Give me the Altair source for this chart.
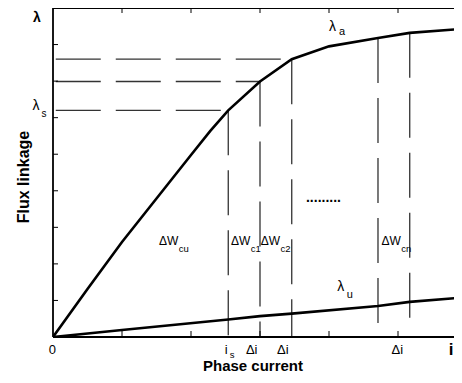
import altair as alt
import pandas as pd

# ---- data ----
i_a = [0, 0.5, 1.0, 1.5, 2.0, 2.28, 2.54, 3.0, 3.46, 4.0, 4.71, 5.17, 5.93]
lam_a = [0, 1.31, 2.6, 3.79, 4.98, 5.64, 6.2, 6.99, 7.6, 7.95, 8.18, 8.32, 8.43]
i_u = [0, 1.0, 2.54, 3.0, 3.46, 4.71, 5.17, 5.93]
lam_u = [0, 0.19, 0.48, 0.57, 0.64, 0.85, 0.96, 1.08]

v_x = [2.54, 3.0, 3.46, 4.71, 5.17]
v_top = [6.2, 6.99, 7.6, 8.18, 8.32]
v_bot = [0, 0, 0, 0.21, 0.35]

h_y = [7.6, 6.99, 6.2]
h_x1 = [0.04, 0.04, 0.04]
h_x2 = [3.46, 3.0, 2.54]

x_ticks = [1, 2, 3, 4, 5]
y_ticks = [1, 2, 3, 4, 5, 6, 7, 8]

tick_text = ["0", "i", "\u0394i", "\u0394i", "\u0394i"]
tick_x = [-0.01, 2.51, 2.88, 3.33, 4.99]

dw_text = ["\u0394W", "\u0394W", "\u0394W", "\u0394W"]
dw_x = [1.536, 2.58, 3.01, 4.76]
dw_sub = ["cu", "c1", "c2", "cn"]
dw_sub_x = [1.822, 2.866, 3.296, 5.046]

PX = 69.0            # pixels per unit current
W, H = 401, 329
XMAX, YMAX = W / PX, 9
FONT = "Liberation Sans"

xs = alt.Scale(domain=[0, XMAX], nice=False, zero=False)
ys = alt.Scale(domain=[0, YMAX], nice=False, zero=False)


def X(f):
    return alt.X(f, type="quantitative", scale=xs, axis=None)


def Y(f):
    return alt.Y(f, type="quantitative", scale=ys, axis=None)


curve_a = pd.DataFrame({"i": i_a, "lam": lam_a})
curve_u = pd.DataFrame({"i": i_u, "lam": lam_u})
vdf = pd.DataFrame({"x": v_x, "top": v_top, "bot": v_bot})
hdf = pd.DataFrame({"y": h_y, "x1": h_x1, "x2": h_x2})
xt = pd.DataFrame({"t": x_ticks})
yt = pd.DataFrame({"t": y_ticks})

line_a = alt.Chart(curve_a).mark_line(color="black", strokeWidth=2.6, clip=True).encode(
    x=X("i"), y=Y("lam"), order="i:Q")
line_u = alt.Chart(curve_u).mark_line(color="black", strokeWidth=2.6, clip=True).encode(
    x=X("i"), y=Y("lam"), order="i:Q")

vlines = alt.Chart(vdf).mark_rule(color="#333", strokeWidth=1.3, strokeDash=[45, 15]).encode(
    x=X("x"), y=Y("top"), y2="bot:Q")
hlines = alt.Chart(hdf).mark_rule(color="#333", strokeWidth=1.3, strokeDash=[45, 15]).encode(
    x=X("x1"), x2="x2:Q", y=Y("y"))

# frame
frame_df = pd.DataFrame({"a": [0]})
left_ax = alt.Chart(frame_df).mark_rule(color="black", strokeWidth=1.8).encode(
    x=alt.value(0), y=alt.value(0), y2=alt.value(H))
bot_ax = alt.Chart(frame_df).mark_rule(color="black", strokeWidth=1.8).encode(
    x=alt.value(0), x2=alt.value(W), y=alt.value(H))
top_ax = alt.Chart(frame_df).mark_rule(color="black", strokeWidth=1.8).encode(
    x=alt.value(0), x2=alt.value(W), y=alt.value(0))

bt = alt.Chart(xt).mark_rule(color="black", strokeWidth=1).encode(
    x=X("t"), y=alt.value(H), y2=alt.value(H - 6))
tt = alt.Chart(xt).mark_rule(color="black", strokeWidth=1).encode(
    x=X("t"), y=alt.value(0), y2=alt.value(5))
lt = alt.Chart(yt).mark_rule(color="black", strokeWidth=1).encode(
    y=Y("t"), x=alt.value(0), x2=alt.value(5))


def txt(df, size, bold=False, align="center", baseline="middle", **enc):
    return alt.Chart(df).mark_text(
        font=FONT, fontSize=size, fontWeight="bold" if bold else "normal",
        align=align, baseline=baseline, color="black").encode(text="text:N", **enc)


ticklab = txt(pd.DataFrame({"x": tick_x, "text": tick_text}), 13,
              x=X("x"), y=alt.value(H + 13))
sub_s = txt(pd.DataFrame({"x": [2.56], "text": ["s"]}), 9.5, align="left", baseline="alphabetic",
            x=X("x"), y=alt.value(H + 21))
i_lab = txt(pd.DataFrame({"x": [5.77], "text": ["i"]}), 17, bold=True,
            x=X("x"), y=alt.value(H + 13))

dw = txt(pd.DataFrame({"x": dw_x, "y": [2.63] * 4, "text": dw_text}), 12, align="left",
         x=X("x"), y=Y("y"))
dws = txt(pd.DataFrame({"x": dw_sub_x, "y": [2.40] * 4, "text": dw_sub}), 9.5, align="left",
          x=X("x"), y=Y("y"))

dots = txt(pd.DataFrame({"x": [3.92], "y": [3.69], "text": ["........."]}), 14, bold=True,
           baseline="alphabetic", x=X("x"), y=Y("y"))

lam_main = txt(pd.DataFrame({"x": [4.05, 4.17], "y": [8.48, 1.36], "text": ["\u03bb", "\u03bb"]}), 14,
               x=X("x"), y=Y("y"))
lam_subs = txt(pd.DataFrame({"x": [4.19, 4.30], "y": [8.33, 1.14], "text": ["a", "u"]}), 11,
               x=X("x"), y=Y("y"))

lam_s = txt(pd.DataFrame({"text": ["\u03bb"]}), 14, x=alt.value(-17), y=alt.value(98))
lam_s_sub = txt(pd.DataFrame({"text": ["s"]}), 10, x=alt.value(-9), y=alt.value(106))
lam_top = txt(pd.DataFrame({"text": ["\u03bb"]}), 14, bold=True, baseline="alphabetic",
              x=alt.value(-16), y=alt.value(14))

ytitle = alt.Chart(pd.DataFrame({"text": ["Flux linkage"]})).mark_text(
    font=FONT, fontSize=16, fontWeight="bold", angle=270, align="center",
    baseline="middle", color="black").encode(text="text:N", x=alt.value(-29), y=alt.value(169))
xtitle = txt(pd.DataFrame({"text": ["Phase current"]}), 15, bold=True, baseline="alphabetic",
             x=alt.value(200), y=alt.value(H + 34))

chart = alt.layer(
    hlines, vlines, line_u, line_a, left_ax, bot_ax, top_ax, bt, tt, lt,
    ticklab, sub_s, i_lab, dw, dws, dots, lam_main, lam_subs, lam_s, lam_s_sub, lam_top,
    ytitle, xtitle
).properties(
    width=W, height=H,
    autosize=alt.AutoSizeParams(type="none"),
    padding={"left": 45, "top": 0, "right": 0, "bottom": 38},
).configure_view(strokeOpacity=0)

chart.save("out.html", embed_options={"renderer": "svg", "actions": False})
